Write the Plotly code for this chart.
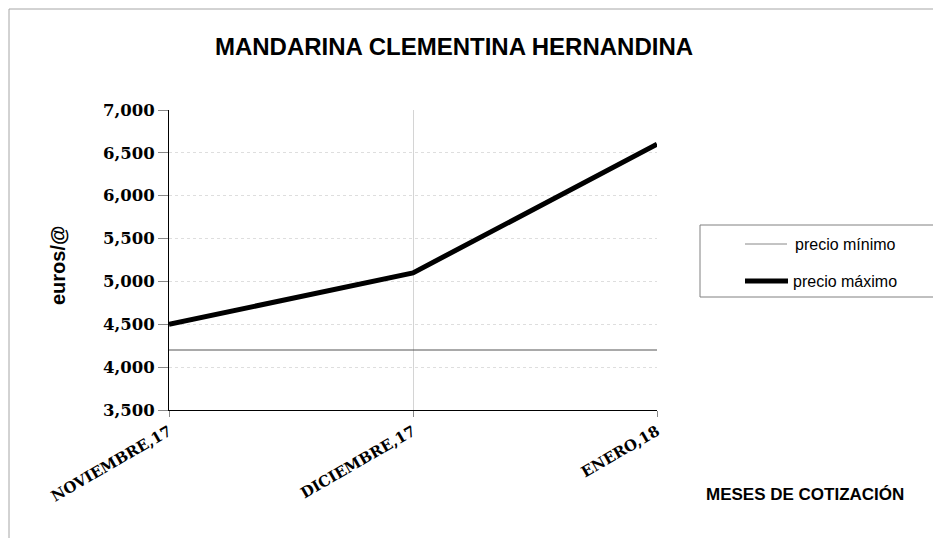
import plotly.graph_objects as go

meses = ["NOVIEMBRE,17", "DICIEMBRE,17", "ENERO,18"]
precio_minimo = [4.2, 4.2, 4.2]
precio_maximo = [4.5, 5.1, 6.6]
y_ticks = [3.5, 4.0, 4.5, 5.0, 5.5, 6.0, 6.5, 7.0]

OFF = 8  # page body margin
W, H = 941 - OFF, 538 - OFF
L, R, T, B = 169 - OFF, 657 - OFF, 110 - OFF, 410 - OFF
pw, ph = R - L, B - T


def px(x):
    return (x - OFF - L) / pw


def py(y):
    return (B - (y - OFF)) / ph


fig = go.Figure()
fig.add_trace(go.Scatter(x=meses, y=precio_minimo, mode="lines", name="precio mínimo",
                         line=dict(color="#555555", width=1), cliponaxis=False, showlegend=False))
fig.add_trace(go.Scatter(x=meses, y=precio_maximo, mode="lines", name="precio máximo",
                         line=dict(color="#000000", width=5), cliponaxis=False, showlegend=False))

sans = "Liberation Sans, Arial, sans-serif"

fig.update_layout(
    width=W, height=H,
    margin=dict(l=L, r=W - R, t=T, b=H - B, pad=0),
    paper_bgcolor="white", plot_bgcolor="white",
    separators=",.",
    title=dict(text="<b>MANDARINA CLEMENTINA HERNANDINA</b>", x=(454 - OFF) / W, xanchor="center",
               y=1 - (47 - OFF) / H, yanchor="middle", font=dict(family=sans, size=24, color="black")),
    xaxis=dict(range=[0, 2], showline=True, linecolor="black", linewidth=1,
               showgrid=True, gridcolor="#d4d4d4", gridwidth=1,
               ticks="outside", ticklen=6, tickcolor="#888888",
               tickangle=-30, tickfont=dict(family="DejaVu Serif", size=15, color="black", weight="bold"),
               zeroline=False),
    yaxis=dict(range=[3.5, 7.0], tickvals=y_ticks, tickformat=".3f",
               showline=True, linecolor="black", linewidth=1,
               showgrid=True, gridcolor="#dedede", gridwidth=1, griddash="dot",
               ticks="outside", ticklen=10, tickcolor="#888888",
               tickfont=dict(family="DejaVu Serif", size=16.5, color="black", weight="bold"),
               zeroline=False),
    showlegend=False,
)

shapes = [
    dict(type="rect", xref="paper", yref="paper", x0=px(9), x1=px(1300), y0=py(1000), y1=py(9),
         line=dict(color="#a6a6a6", width=1), fillcolor="rgba(0,0,0,0)", layer="below"),
    dict(type="rect", xref="paper", yref="paper", x0=px(700), x1=px(934), y0=py(297), y1=py(225),
         line=dict(color="#808080", width=1), fillcolor="white"),
    dict(type="line", xref="paper", yref="paper", x0=px(745), x1=px(787), y0=py(244), y1=py(244),
         line=dict(color="#888888", width=1)),
    dict(type="line", xref="paper", yref="paper", x0=px(745), x1=px(788), y0=py(281), y1=py(281),
         line=dict(color="black", width=5)),
]
fig.update_layout(shapes=shapes)

ann = [
    dict(text="precio mínimo", x=px(793), y=py(244), xanchor="left", yanchor="middle",
         font=dict(family=sans, size=16, color="black")),
    dict(text="precio máximo", x=px(791), y=py(281), xanchor="left", yanchor="middle",
         font=dict(family=sans, size=16, color="black")),
    dict(text="<b>euros/@</b>", x=px(58), y=py(265), xanchor="center", yanchor="middle",
         textangle=-90, font=dict(family=sans, size=20, color="black")),
    dict(text="<b>MESES DE COTIZACIÓN</b>", x=px(805), y=py(495), xanchor="center", yanchor="middle",
         font=dict(family=sans, size=17, color="black")),
]
for a in ann:
    a.update(xref="paper", yref="paper", showarrow=False)
fig.update_layout(annotations=ann)

fig.write_html("out.html")
